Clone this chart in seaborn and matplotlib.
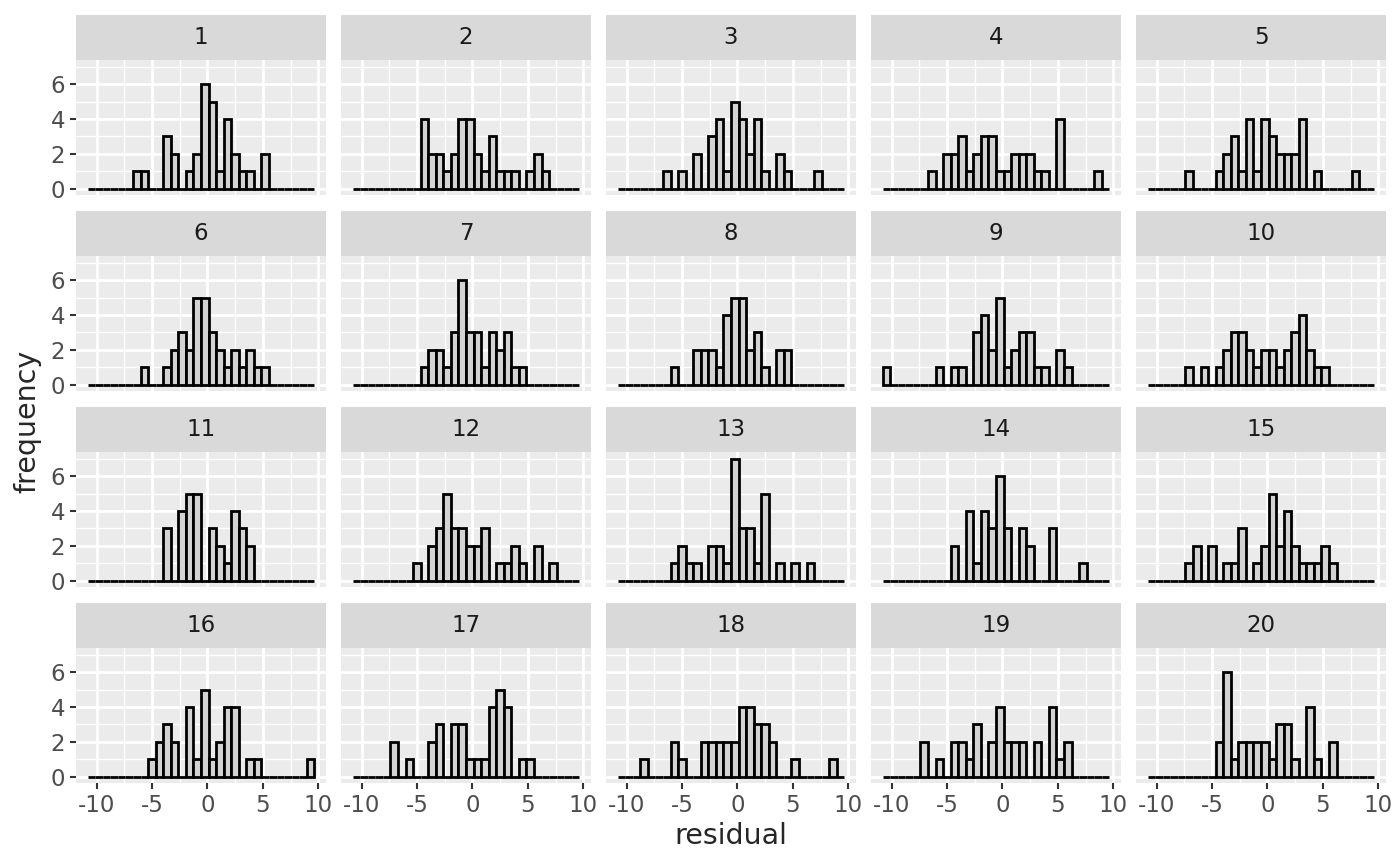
import numpy as np
import pandas as pd
import matplotlib
matplotlib.use("Agg")
import matplotlib.pyplot as plt
import seaborn as sns

# bin range of the histogram (30 bins shared by all panels)
bin_lo = -10.81
bin_hi = 9.64
n_bins = 30

# counts per bin, one list per sample
p01 = [0,0,0,0,0,0,1,1,0,0,3,2,0,1,2,6,5,1,4,2,1,1,0,2,0,0,0,0,0,0]
p02 = [0,0,0,0,0,0,0,0,0,4,2,2,1,2,4,4,2,1,3,1,1,1,0,1,2,1,0,0,0,0]
p03 = [0,0,0,0,0,0,1,0,1,0,2,0,3,4,1,5,4,2,4,1,0,2,1,0,0,0,1,0,0,0]
p04 = [0,0,0,0,0,0,1,0,2,2,3,1,2,3,3,1,1,2,2,2,1,1,0,4,0,0,0,0,1,0]
p05 = [0,0,0,0,0,1,0,0,0,1,2,3,1,4,1,4,3,2,2,2,4,0,1,0,0,0,0,1,0,0]
p06 = [0,0,0,0,0,0,0,1,0,0,1,2,3,2,5,5,3,2,1,2,1,2,1,1,0,0,0,0,0,0]
p07 = [0,0,0,0,0,0,0,0,0,1,2,2,1,3,6,3,3,1,3,2,3,1,1,0,0,0,0,0,0,0]
p08 = [0,0,0,0,0,0,0,1,0,0,2,2,2,1,4,5,5,2,3,1,0,2,2,0,0,0,0,0,0,0]
p09 = [1,0,0,0,0,0,0,1,0,1,1,0,3,4,2,5,1,2,3,3,1,1,0,2,1,0,0,0,0,0]
p10 = [0,0,0,0,0,1,0,1,0,1,2,3,3,2,1,2,2,1,2,3,4,2,1,1,0,0,0,0,0,0]
p11 = [0,0,0,0,0,0,0,0,0,0,3,0,4,5,5,0,3,2,1,4,3,2,0,0,0,0,0,0,0,0]
p12 = [0,0,0,0,0,0,0,0,1,0,2,3,5,3,3,2,2,3,0,1,1,2,1,0,2,0,1,0,0,0]
p13 = [0,0,0,0,0,0,0,1,2,1,1,0,2,2,1,7,3,3,1,5,0,1,0,1,0,1,0,0,0,0]
p14 = [0,0,0,0,0,0,0,0,0,2,0,4,1,4,3,6,3,0,3,2,0,0,3,0,0,0,1,0,0,0]
p15 = [0,0,0,0,0,1,2,0,2,0,1,1,3,0,1,2,5,2,4,2,1,1,1,2,1,0,0,0,0,0]
p16 = [0,0,0,0,0,0,0,0,1,2,3,2,0,4,1,5,1,2,4,4,0,1,1,0,0,0,0,0,0,1]
p17 = [0,0,0,0,0,2,0,1,0,0,2,3,0,3,3,1,1,1,4,5,4,0,1,1,0,0,0,0,0,0]
p18 = [0,0,0,1,0,0,0,2,1,0,0,2,2,2,2,2,4,4,3,3,2,0,0,1,0,0,0,0,1,0]
p19 = [0,0,0,0,0,2,0,1,0,2,2,1,3,0,2,4,2,2,2,0,2,0,4,1,2,0,0,0,0,0]
p20 = [0,0,0,0,0,0,0,0,0,2,6,1,2,2,2,2,1,3,3,1,0,4,1,0,2,0,0,0,0,0]

samples = [p01, p02, p03, p04, p05, p06, p07, p08, p09, p10,
           p11, p12, p13, p14, p15, p16, p17, p18, p19, p20]

edges = np.linspace(bin_lo, bin_hi, n_bins + 1)
centers = (edges[:-1] + edges[1:]) / 2
rows = []
for i, counts in enumerate(samples):
    for c, n in zip(centers, counts):
        rows.append({"sample": i + 1, "residual": c, "n": n})
df = pd.DataFrame(rows)

sns.set_style("darkgrid", {"axes.facecolor": "#EBEBEB", "grid.color": "white"})
plt.rcParams["font.family"] = ["DejaVu Sans"]
plt.rcParams["axes.unicode_minus"] = False

W, H = 1400, 866
fig = plt.figure(figsize=(W / 100, H / 100), dpi=100)


def box(x, y, w, h):
    return [x / W, 1 - (y + h) / H, w / W, h / H]


# x range expanded like ggplot
span = bin_hi - bin_lo
xlim = (bin_lo - 0.05 * span, bin_hi + 0.05 * span)
ylim = (-0.35, 7.35)

pan_w, pan_h, strip_h = 249.2, 134.7, 45
for k in range(20):
    r, c = divmod(k, 5)
    x0 = 76.4 + 265 * c
    y0 = 60.4 + 196 * r
    ax = fig.add_axes(box(x0, y0, pan_w, pan_h))
    sub = df[df["sample"] == k + 1]
    sns.histplot(data=sub, x="residual", weights="n", bins=n_bins,
                 binrange=(bin_lo, bin_hi), ax=ax,
                 color="lightgrey", edgecolor="black", linewidth=2.0, alpha=1)
    ax.set_xlim(xlim)
    ax.set_ylim(ylim)
    ax.set_xticks([-10, -5, 0, 5, 10])
    ax.set_xticks([-7.5, -2.5, 2.5, 7.5], minor=True)
    ax.set_yticks([0, 2, 4, 6])
    ax.set_yticks([1, 3, 5, 7], minor=True)
    ax.set_axisbelow(True)
    ax.grid(which="major", color="white", linewidth=2.0)
    ax.grid(which="minor", color="white", linewidth=1.0)
    for s in ax.spines.values():
        s.set_visible(False)
    ax.set_xlabel("")
    ax.set_ylabel("")
    ax.tick_params(which="minor", length=0)
    ax.tick_params(which="major", direction="out", length=4.5, width=1.5,
                   color="#333333", labelcolor="#4D4D4D", labelsize=16.5, pad=3.5)
    ax.tick_params(axis="x", bottom=(r == 3), labelbottom=(r == 3))
    ax.tick_params(axis="y", left=(c == 0), labelleft=(c == 0))

    st = fig.add_axes(box(x0, y0 - strip_h, pan_w, strip_h))
    st.set_facecolor("#D9D9D9")
    st.set_xticks([])
    st.set_yticks([])
    st.grid(False)
    for s in st.spines.values():
        s.set_visible(False)
    st.text(0.5, 0.5, str(k + 1), ha="center", va="center",
            fontsize=16.5, color="#1A1A1A", transform=st.transAxes)

fig.text(731 / W, 1 - 836 / H, "residual", ha="center", va="center", fontsize=20.5)
fig.text(27 / W, 1 - 421 / H, "frequency", ha="center", va="center",
         fontsize=20.5, rotation=90)

fig.savefig("out.png", dpi=100, facecolor="white")
